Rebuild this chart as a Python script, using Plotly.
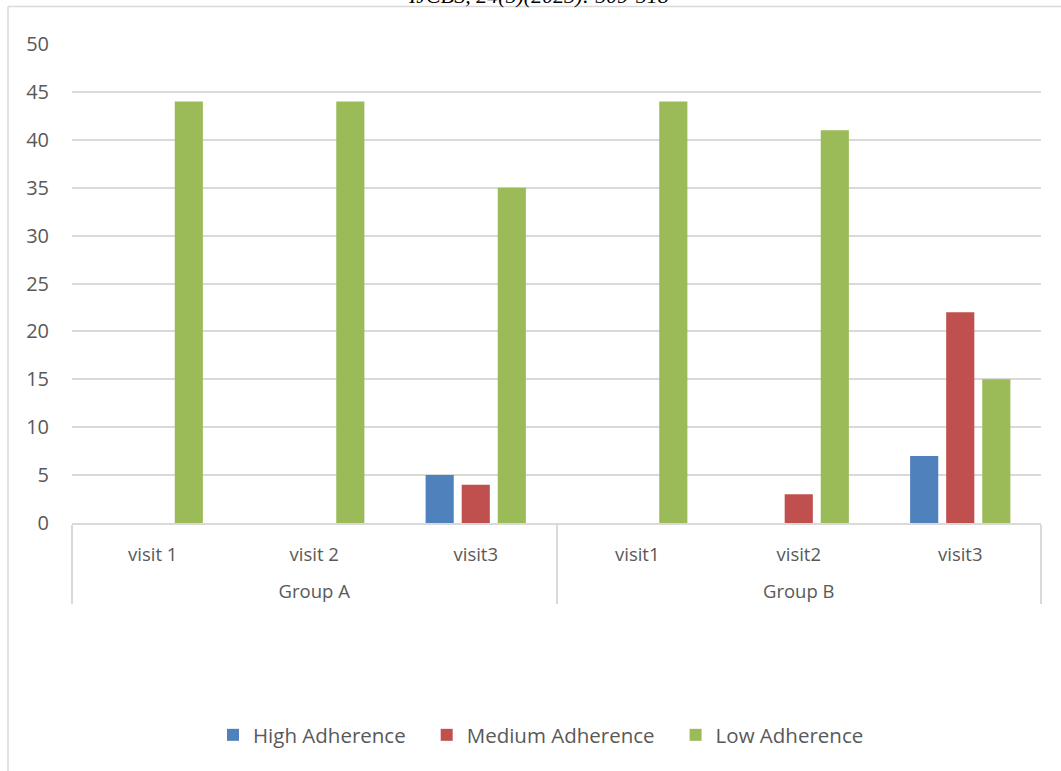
import plotly.graph_objects as go

groups = ["Group A", "Group A", "Group A", "Group B", "Group B", "Group B"]
visits = ["visit 1", "visit 2", "visit3", "visit1", "visit2", "visit3"]
high = [0, 0, 5, 0, 0, 7]
medium = [0, 0, 4, 0, 3, 22]
low = [44, 44, 35, 44, 41, 15]
series_names = ["High Adherence", "Medium Adherence", "Low Adherence"]
colors = ["#4F81BD", "#C0504D", "#9BBB59"]

GRID = "#D9D9D9"
TXT = "#595959"
FONT = "Open Sans"

# order in which the pairs are fed so that plotly keeps visit1, visit2, visit3 in each group
feed = [0, 1, 3, 4, 2, 5]
xg = ["<br>" + groups[i] for i in feed]
xv = [visits[i] for i in feed]

fig = go.Figure()
for name, vals, col in zip(series_names, [high, medium, low], colors):
    fig.add_trace(go.Bar(x=[xg, xv], y=[vals[i] for i in feed],
                         name=name + "\u00a0\u00a0\u00a0",
                         marker=dict(color=col, line=dict(width=0))))

W, H = 1061, 771
L, R, T, B = 72, 20, 44, 248
pw, ph = W - L - R, H - T - B

def px_x(p):
    return (p - L) / pw

def px_y(p):
    return (H - B - p) / ph

fig.update_layout(
    width=W, height=H,
    margin=dict(l=L, r=R, t=T, b=B),
    paper_bgcolor="white", plot_bgcolor="white",
    barmode="group", bargap=0.33, bargroupgap=0.22,
    font=dict(family=FONT, size=18, color=TXT),
    showlegend=True,
    legend=dict(orientation="h", x=px_x(549), xanchor="center",
                y=px_y(735), yanchor="middle",
                font=dict(family=FONT, size=20.5, color=TXT)),
    xaxis=dict(type="multicategory", showgrid=False, showline=True,
               linecolor=GRID, linewidth=1.5, showdividers=True,
               dividercolor=GRID, dividerwidth=1.5, ticks="",
               ticklabelstandoff=14,
               tickfont=dict(family=FONT, size=18.5, color=TXT)),
    yaxis=dict(range=[0, 50], dtick=5, showgrid=True, gridcolor=GRID,
               gridwidth=1.5, zeroline=False, showline=False, ticks="",
               ticklabelstandoff=22,
               tickfont=dict(family=FONT, size=20, color=TXT)),
    shapes=[
        dict(type="line", xref="paper", yref="paper",
             x0=px_x(8), x1=px_x(1061), y0=px_y(6.5), y1=px_y(6.5),
             line=dict(color=GRID, width=1.5)),
        dict(type="line", xref="paper", yref="paper",
             x0=px_x(8), x1=px_x(8), y0=px_y(6.5), y1=px_y(771),
             line=dict(color=GRID, width=1.5)),
    ],
    annotations=[
        dict(text="<i>IJCBS, 24(5)(2023): 509-518</i>", xref="paper", yref="paper",
             x=px_x(538), y=px_y(10), xanchor="center", yanchor="bottom",
             showarrow=False,
             font=dict(family="Liberation Serif", size=22, color="black")),
    ],
)

fig.write_html("out.html", config={"displayModeBar": False},
               post_script="document.body.style.margin='0px';")
